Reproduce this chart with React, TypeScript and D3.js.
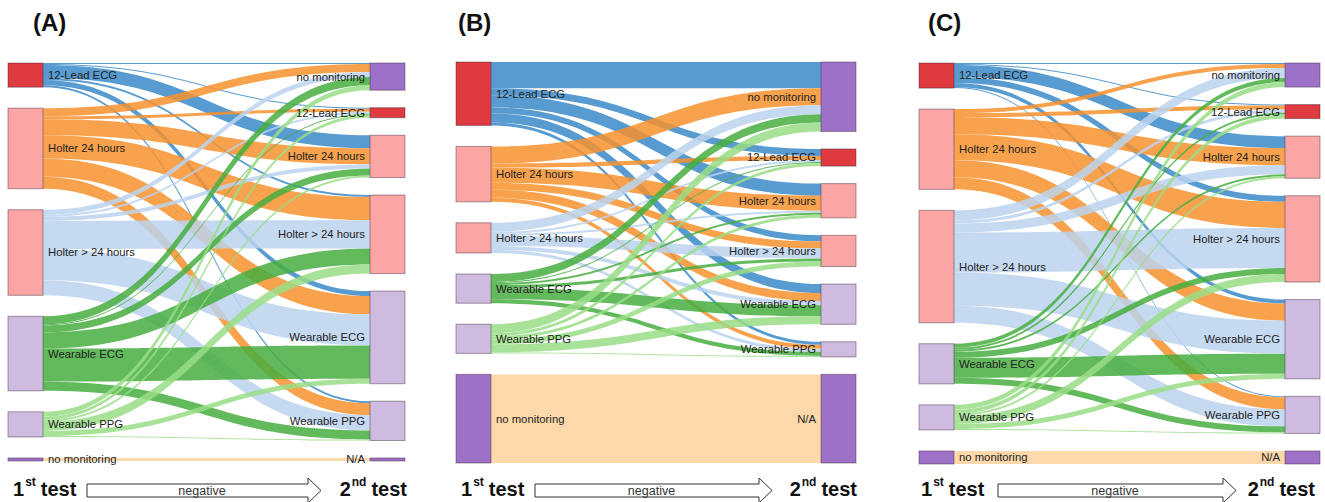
import React from 'react';
import * as d3 from 'd3';

// ---------- data ----------
const sourceNodes = ['12-Lead ECG', 'Holter 24 hours', 'Holter > 24 hours', 'Wearable ECG', 'Wearable PPG', 'no monitoring'];
const targetNodes = ['no monitoring', '12-Lead ECG', 'Holter 24 hours', 'Holter > 24 hours', 'Wearable ECG', 'Wearable PPG', 'N/A'];
const panelTitles = ['(A)', '(B)', '(C)'];

// rows = 1st test (source), columns = 2nd test (target)
const flowsA = [
  [1, 1, 13, 2, 5, 2, 0],
  [8, 3, 16, 23, 18, 12, 0],
  [5, 2, 4, 28, 31, 15, 0],
  [8, 1, 7, 16, 33, 9, 0],
  [5, 3, 2, 9, 5, 1, 0],
  [0, 0, 0, 0, 0, 0, 3],
];
const flowsB = [
  [26, 7, 12, 6, 9, 3, 0],
  [17, 4, 15, 7, 8, 4, 0],
  [9, 2, 2, 10, 4, 3, 0],
  [8, 1, 2, 3, 11, 4, 0],
  [9, 3, 3, 5, 8, 1, 0],
  [0, 0, 0, 0, 0, 0, 88],
];
const flowsC = [
  [1, 1, 12, 6, 4, 1, 0],
  [4, 4, 17, 26, 17, 12, 0],
  [10, 3, 9, 40, 33, 17, 0],
  [4, 2, 2, 6, 20, 6, 0],
  [5, 4, 2, 8, 5, 1, 0],
  [0, 0, 0, 0, 0, 0, 13],
];
const panelFlows = [flowsA, flowsB, flowsC];

const firstWord = ['1', 'st'];
const secondWord = ['2', 'nd'];
const testWord = 'test';
const arrowWord = 'negative';

// ---------- styles ----------
const SOURCE_NODE_FILL = ['#de3a40', '#fca5a5', '#fca5a5', '#cebbdf', '#cebbdf', '#9d71c7'];
const TARGET_NODE_FILL = ['#9d71c7', '#de3a40', '#fca5a5', '#fca5a5', '#cebbdf', '#cebbdf', '#9d71c7'];
const LINK_FILL = ['#3b8ac8', '#f7922f', '#bbd3ee', '#47ae3f', '#99dd86', '#fdd19b'];
const FONT = 'Liberation Sans, Arial, Helvetica, sans-serif';

const PANELS = [
  { x0: 8, x1: 405, top: 63, bottom: 461, titleX: 33, leftText: 13, rightText: 407 },
  { x0: 456, x1: 856, top: 62, bottom: 463, titleX: 458, leftText: 461, rightText: 857 },
  { x0: 919, x1: 1320, top: 63, bottom: 464, titleX: 928, leftText: 921, rightText: 1315 },
];
const NODE_W = 35;
const PAD = 17.5;

function Panel({ flows, title, p }: { flows: number[][]; title: string; p: any }) {
  const srcTot = flows.map((r) => d3.sum(r));
  const tgtTot = targetNodes.map((_, j) => d3.sum(flows, (r) => r[j]));
  const H = p.bottom - p.top;
  const grand = Math.max(d3.sum(srcTot), d3.sum(tgtTot));
  const nMax = Math.max(sourceNodes.length, targetNodes.length);
  const h = d3.scaleLinear().domain([0, grand]).range([0, H - (nMax - 1) * PAD]);

  const place = (tot: number[]) => {
    const used = d3.sum(tot, (v) => h(v));
    const gap = (H - used) / (tot.length - 1);
    let y = p.top;
    return tot.map((v) => {
      const y0 = y;
      const y1 = y0 + h(v);
      y = y1 + gap;
      return { y0, y1 };
    });
  };
  const sPos = place(srcTot);
  const tPos = place(tgtTot);
  const sx0 = p.x0, sx1 = p.x0 + NODE_W, tx0 = p.x1 - NODE_W, tx1 = p.x1;
  const sOff = sPos.map((n) => n.y0);
  const tOff = tPos.map((n) => n.y0);
  const xm = (sx1 + tx0) / 2;

  const links: { d: string; fill: string; key: string }[] = [];
  flows.forEach((row, i) =>
    row.forEach((v, j) => {
      if (!v) return;
      const w = h(v);
      const a0 = sOff[i], a1 = a0 + w;
      const b0 = tOff[j], b1 = b0 + w;
      sOff[i] = a1;
      tOff[j] = b1;
      const pth = d3.path();
      pth.moveTo(sx1, a0);
      pth.bezierCurveTo(xm, a0, xm, b0, tx0, b0);
      pth.lineTo(tx0, b1);
      pth.bezierCurveTo(xm, b1, xm, a1, sx1, a1);
      pth.closePath();
      links.push({ d: pth.toString(), fill: LINK_FILL[i], key: `${i}-${j}` });
    })
  );

  const ax0 = p.x0 + 79;
  const ax1 = p.x1 - 84;
  const hx = ax1 - 13;
  const cy = 490.5;
  const arrow = d3.path();
  arrow.moveTo(ax0, cy - 6.5);
  arrow.lineTo(hx, cy - 6.5);
  arrow.lineTo(hx, cy - 12.5);
  arrow.lineTo(ax1, cy);
  arrow.lineTo(hx, cy + 12.5);
  arrow.lineTo(hx, cy + 6.5);
  arrow.lineTo(ax0, cy + 6.5);
  arrow.closePath();

  return (
    <g>
      <text x={p.titleX} y={31} fontFamily={FONT} fontWeight="bold" fontSize={24} fill="#111">
        {title}
      </text>
      {links.map((l) => (
        <path key={l.key} d={l.d} fill={l.fill} fillOpacity={0.85} />
      ))}
      {sPos.map((n, i) => (
        <rect key={'s' + i} x={sx0} y={n.y0} width={NODE_W} height={Math.max(n.y1 - n.y0, 1)}
          fill={SOURCE_NODE_FILL[i]} stroke="rgba(60,40,60,0.45)" strokeWidth={1} />
      ))}
      {tPos.map((n, j) => (
        <rect key={'t' + j} x={tx0} y={n.y0} width={NODE_W} height={Math.max(n.y1 - n.y0, 1)}
          fill={TARGET_NODE_FILL[j]} stroke="rgba(60,40,60,0.45)" strokeWidth={1} />
      ))}
      {sPos.map((n, i) => (
        <text key={'sl' + i} x={sx1 + 5} y={(n.y0 + n.y1) / 2} dy="0.35em" fontFamily={FONT}
          fontSize={11.3} fill="#222">
          {sourceNodes[i]}
        </text>
      ))}
      {tPos.map((n, j) => (
        <text key={'tl' + j} x={tx0 - 5} y={(n.y0 + n.y1) / 2} dy="0.35em" fontFamily={FONT}
          fontSize={11.3} fill="#222" textAnchor="end">
          {targetNodes[j]}
        </text>
      ))}
      <text x={p.leftText} y={496} fontFamily={FONT} fontWeight="bold" fontSize={20} fill="#111">
        <tspan>{firstWord[0]}</tspan>
        <tspan fontSize={12} dy={-10} dx={1}>{firstWord[1]}</tspan>
        <tspan dy={10} dx={5}>{testWord}</tspan>
      </text>
      <text x={p.rightText} y={496} fontFamily={FONT} fontWeight="bold" fontSize={20} fill="#111" textAnchor="end">
        <tspan>{secondWord[0]}</tspan>
        <tspan fontSize={12} dy={-10} dx={1}>{secondWord[1]}</tspan>
        <tspan dy={10} dx={5}>{testWord}</tspan>
      </text>
      <path d={arrow.toString()} fill="#fff" stroke="#333" strokeWidth={1} />
      <text x={(ax0 + ax1) / 2 - 2} y={495} fontFamily={FONT} fontSize={12.5} fill="#333" textAnchor="middle">
        {arrowWord}
      </text>
    </g>
  );
}

export default function App() {
  return (
    <div style={{ position: 'fixed', left: 0, top: 0 }}>
      <svg width={1325} height={502} style={{ display: 'block', background: '#fff' }}>
        {PANELS.map((p, k) => (
          <Panel key={k} flows={panelFlows[k]} title={panelTitles[k]} p={p} />
        ))}
      </svg>
    </div>
  );
}
